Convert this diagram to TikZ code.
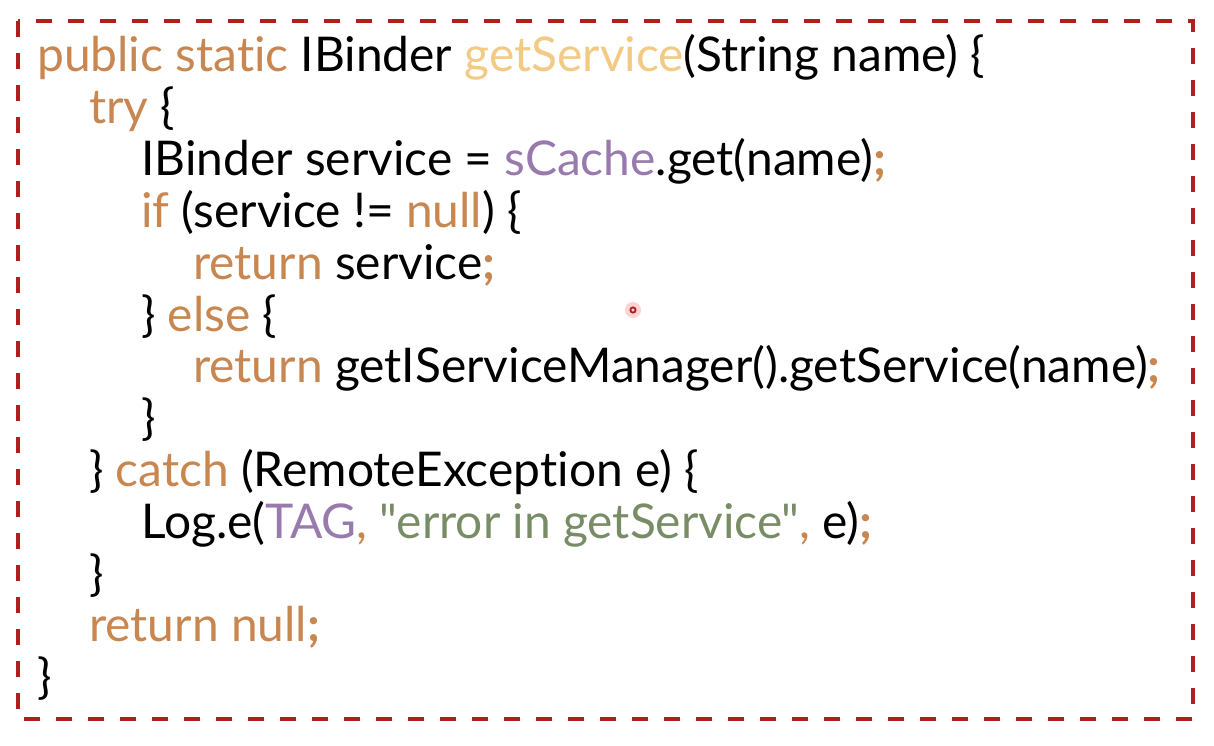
\documentclass[tikz,border=0pt]{standalone}
\usepackage{fontspec}
\newfontfamily\codefont[Ligatures={NoCommon,NoRequired,NoContextual}]{Lato}
\definecolor{kw}{RGB}{200,135,80}
\definecolor{meth}{RGB}{242,202,132}
\definecolor{fld}{RGB}{152,122,172}
\definecolor{str}{RGB}{120,140,102}
\definecolor{frame}{RGB}{172,32,32}
\newlength\refw
\settowidth{\refw}{\codefont\fontsize{40}{40}\selectfont public static IBinder getService(String name) \{}
\pgfmathsetmacro\codefs{948/\refw*40}
\newcommand\K[1]{\textcolor{kw}{#1}}
\newcommand\SC{\textcolor{kw}{\bfseries;}}
\tikzset{
  codeline/.style={font=\codefont\fontsize{\codefs}{\codefs}\selectfont, anchor=base west, inner sep=0pt, text=black},
  frameline/.style={draw=frame, line width=4pt, dash pattern=on 16pt off 16pt},
}
\begin{document}
\begin{tikzpicture}[x=1pt,y=1pt]
\useasboundingbox (0,0) rectangle (1214,-746);
\fill[white] (0,0) rectangle (1214,-746);
\draw[frameline] (18,-21) rectangle (1193,-719);
\node[codeline] (l1) at (37,-72) {\K{public static} IBinder \textcolor{meth}{getService}(String name) \{};
\node[codeline] (l2) at (89,-123.8) {\K{try} \{};
\node[codeline] (l3) at (141,-175.6) {IBinder service = \textcolor{fld}{sCache}.get(name)\SC};
\node[codeline] (l4) at (141,-227.4) {\K{if} (service != \K{null}) \{};
\node[codeline] (l5) at (193,-279.2) {\K{return} service\SC};
\node[codeline] (l6) at (141,-331) {\} \K{else} \{};
\node[codeline] (l7) at (193,-382.8) {\K{return} getIServiceManager().getService(name)\SC};
\node[codeline] (l8) at (141,-434.6) {\}};
\node[codeline] (l9) at (89,-486.4) {\} \K{catch} (RemoteException e) \{};
\node[codeline] (l10) at (141,-538.2) {Log.e(\textcolor{fld}{TAG}\K{,} \textcolor{str}{"error in getService"}\K{,} e)\SC};
\node[codeline] (l11) at (89,-590) {\}};
\node[codeline] (l12) at (89,-641.8) {\K{return null}\SC};
\node[codeline] (l13) at (37,-693.6) {\}};
\fill[red!50, opacity=0.35] (633,-310) circle (8pt);
\draw[frame, line width=1.8pt] (633,-310) circle (2.6pt);
\end{tikzpicture}
\end{document}
